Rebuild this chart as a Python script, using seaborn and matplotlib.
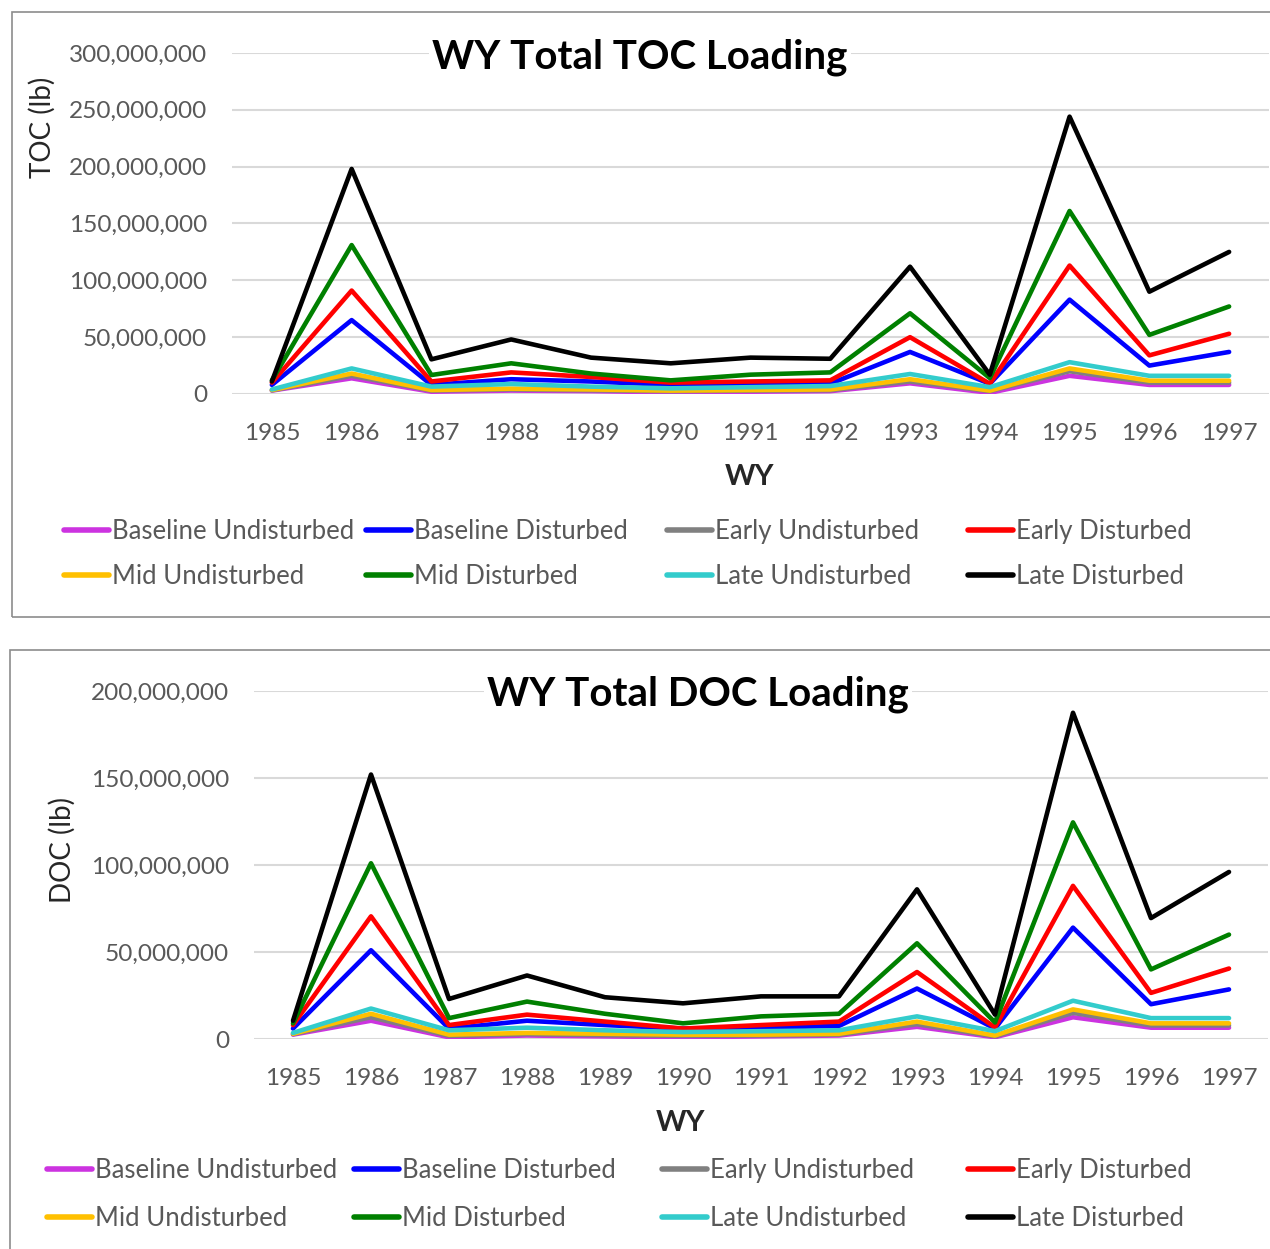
import matplotlib
matplotlib.use("Agg")
import matplotlib.pyplot as plt
import matplotlib.ticker as mticker
from matplotlib.patches import Rectangle
import seaborn as sns
import pandas as pd

years = [1985, 1986, 1987, 1988, 1989, 1990, 1991, 1992, 1993, 1994, 1995, 1996, 1997]
series = ["Baseline Undisturbed", "Baseline Disturbed", "Early Undisturbed", "Early Disturbed",
          "Mid Undisturbed", "Mid Disturbed", "Late Undisturbed", "Late Disturbed"]
colors = ["#CC33E0", "#0000FF", "#808080", "#FF0000", "#FFC000", "#008000", "#33CCCC", "#000000"]

# TOC loading, millions of lb
toc_bu = [3, 13.8, 2, 3, 2.5, 1.5, 2, 2.5, 9.4, 1, 16, 8, 8]
toc_bd = [8, 65, 8, 13, 11, 8, 9, 9, 37, 9, 83, 25, 37]
toc_eu = [3.2, 16, 3, 4, 3.3, 2.5, 3, 3.3, 11, 2.5, 20, 10, 10]
toc_ed = [10, 91, 11, 19, 15, 10, 11, 12, 50, 9, 113, 34, 53]
toc_mu = [3.5, 18, 3.5, 4.7, 4, 3, 3.5, 4, 13, 3, 22.5, 11.7, 11.7]
toc_md = [12, 131, 16.7, 27, 18, 12, 17, 19, 71, 14, 161, 52, 77]
toc_lu = [4, 22.5, 6.5, 8.8, 6.5, 5, 6, 7, 17.6, 6, 28, 16, 16]
toc_ld = [11, 198, 30.5, 48, 32, 27, 32, 31, 112, 17, 244, 90, 125]

# DOC loading, millions of lb
doc_bu = [2.5, 10.5, 1, 2, 1.5, 1, 1.5, 2, 7, 1, 12.5, 6.5, 6.5]
doc_bd = [6, 51, 6, 10.5, 8, 6, 6.5, 7.5, 29, 6, 64, 20, 28.5]
doc_eu = [2.8, 12.5, 1.8, 2.8, 2.2, 1.8, 2, 2.5, 8.5, 1.5, 15, 7.8, 7.8]
doc_ed = [8, 70.5, 8, 14, 10, 6, 8, 10, 38.5, 6.6, 88, 26.5, 40.5]
doc_mu = [3, 14.5, 2.5, 3.5, 3, 2.5, 2.5, 3, 10, 2, 17, 9, 9]
doc_md = [9, 101, 12, 21.5, 14.5, 9, 13, 14.5, 55, 9.5, 124.5, 40, 60]
doc_lu = [3.5, 17.5, 5, 6.5, 5, 4, 4.5, 5, 13, 4.5, 22, 12, 12]
doc_ld = [10.5, 152, 23, 36.5, 24, 20.5, 24.5, 24.5, 86, 14, 187.5, 69.5, 96]

toc = [toc_bu, toc_bd, toc_eu, toc_ed, toc_mu, toc_md, toc_lu, toc_ld]
doc = [doc_bu, doc_bd, doc_eu, doc_ed, doc_mu, doc_md, doc_lu, doc_ld]


def long_df(vals):
    rows = []
    for name, v in zip(series, vals):
        for y, val in zip(years, v):
            rows.append({"WY": y, "Series": name, "Load": val * 1e6})
    return pd.DataFrame(rows)


sns.set_theme(style="white")
FONT = ["Lato", "DejaVu Sans"]
plt.rcParams["font.family"] = FONT

W, H = 1270, 1249
fig = plt.figure(figsize=(W / 100, H / 100), dpi=100)
fig.patch.set_facecolor("white")


def fx(x):
    return x / W


def fy(y):
    return 1 - y / H


GRAY = "#595959"

# panel borders
for (x0, y0, x1, y1) in [(12, 12, 1290, 617), (10, 650, 1290, 1270)]:
    fig.patches.append(Rectangle((fx(x0), fy(y1)), fx(x1) - fx(x0), fy(y0) - fy(y1),
                                 transform=fig.transFigure, fill=False,
                                 edgecolor="#8C8C8C", linewidth=1.2, zorder=0))


def make_panel(vals, rect, ymax, title, title_xy, ylabel, ylabel_xy, wy_xy, leg_x, leg_y, leg_sp):
    left, top, right, bottom = rect
    ax = fig.add_axes([fx(left), fy(bottom), fx(right) - fx(left), fy(top) - fy(bottom)])
    df = long_df(vals)
    sns.lineplot(data=df, x="WY", y="Load", hue="Series", hue_order=series,
                 palette=colors, linewidth=3.3, sort=False, ax=ax, legend=True)
    handles, labels = ax.get_legend_handles_labels()
    ax.get_legend().remove()
    ax.set_xlim(1984.5, 1997.5)
    ax.set_ylim(0, ymax)
    ax.set_xticks(years)
    ax.set_xticklabels([str(y) for y in years])
    ax.yaxis.set_major_locator(mticker.MultipleLocator(50e6))
    ax.yaxis.set_major_formatter(mticker.FuncFormatter(lambda v, p: f"{int(round(v)):,}"))
    ax.grid(axis="y", color="#D9D9D9", linewidth=1.5)
    ax.grid(axis="x", visible=False)
    ax.set_axisbelow(True)
    for s in ax.spines.values():
        s.set_visible(False)
    ax.tick_params(axis="both", length=0, labelsize=17.6, labelcolor=GRAY)
    ax.tick_params(axis="y", pad=18)
    ax.tick_params(axis="x", pad=21)
    ax.set_xlabel("")
    ax.set_ylabel("")
    fig.text(fx(title_xy[0]), fy(title_xy[1]), title, ha="center", va="center",
             fontsize=29, fontweight="bold", color="black",
             bbox=dict(facecolor="white", edgecolor="none", pad=2))
    fig.text(fx(ylabel_xy[0]), fy(ylabel_xy[1]), ylabel, ha="center", va="center",
             rotation=90, fontsize=20, color="#262626")
    fig.text(fx(wy_xy[0]), fy(wy_xy[1]), "WY", ha="center", va="center",
             fontsize=21, fontweight="bold", color="#262626")
    hmap = dict(zip(labels, handles))
    cols = [[series[0], series[4]], [series[1], series[5]],
            [series[2], series[6]], [series[3], series[7]]]
    for cx, names in zip(leg_x, cols):
        hs = []
        for n in names:
            h = hmap[n]
            hh = plt.Line2D([], [], color=h.get_color(), linewidth=4, solid_capstyle="round")
            hs.append(hh)
        fig.legend(hs, names, loc="center left", bbox_to_anchor=(fx(cx), fy(leg_y)),
                   bbox_transform=fig.transFigure, frameon=False, ncol=1,
                   fontsize=18.5, labelcolor=GRAY, handlelength=1.75, handletextpad=0.12,
                   borderpad=0, borderaxespad=0, labelspacing=leg_sp)
    return ax


make_panel(toc, (232, 53, 1269, 394), 300e6, "WY Total TOC Loading", (640, 57),
           "TOC (lb)", (42, 127), (750, 477), [64, 366, 667, 968], 554, 0.75)
make_panel(doc, (254, 691, 1268, 1039), 200e6, "WY Total DOC Loading", (698, 694),
           "DOC (lb)", (62, 850), (681, 1123), [47, 354, 662, 968], 1194.5, 0.88)

fig.savefig("out.png", dpi=100, facecolor="white")
